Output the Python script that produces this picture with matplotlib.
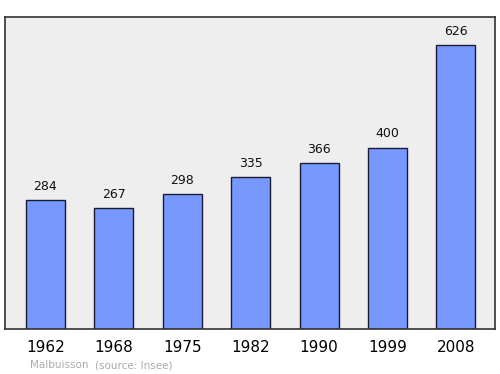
import matplotlib
matplotlib.use("Agg")
import matplotlib.pyplot as plt

# data
years = ["1962", "1968", "1975", "1982", "1990", "1999", "2008"]
population = [284, 267, 298, 335, 366, 400, 626]
commune = "Malbuisson"
source = "(source: Insee)"

fig = plt.figure(figsize=(5, 3.74), dpi=100)
ax = fig.add_axes([0.01, 0.1203, 0.98, 0.834])
ax.set_facecolor("#eeeeee")

x = list(range(len(years)))
ax.bar(x, population, width=0.57, color="#7799ff", edgecolor="#1a1a33", linewidth=1)

# value labels above bars
for xi, v in zip(x, population):
    ax.text(xi, v + 16, str(v), ha="center", va="bottom", fontsize=9, color="#111111")

ax.set_xlim(-0.59, 6.57)
ax.set_ylim(0, 688)
ax.set_yticks([])
ax.set_xticks(x)
ax.set_xticklabels(years, fontsize=11)
ax.tick_params(axis="x", length=0, pad=8)

for s in ax.spines.values():
    s.set_color("#333333")
    s.set_linewidth(1.2)

fig.text(30 / 500, 1 - 365 / 374, commune, fontsize=7.5, color="#aaaaaa", va="center")
fig.text(95 / 500, 1 - 365 / 374, source, fontsize=7.5, color="#aaaaaa", va="center")

fig.savefig("out.png", dpi=100)
